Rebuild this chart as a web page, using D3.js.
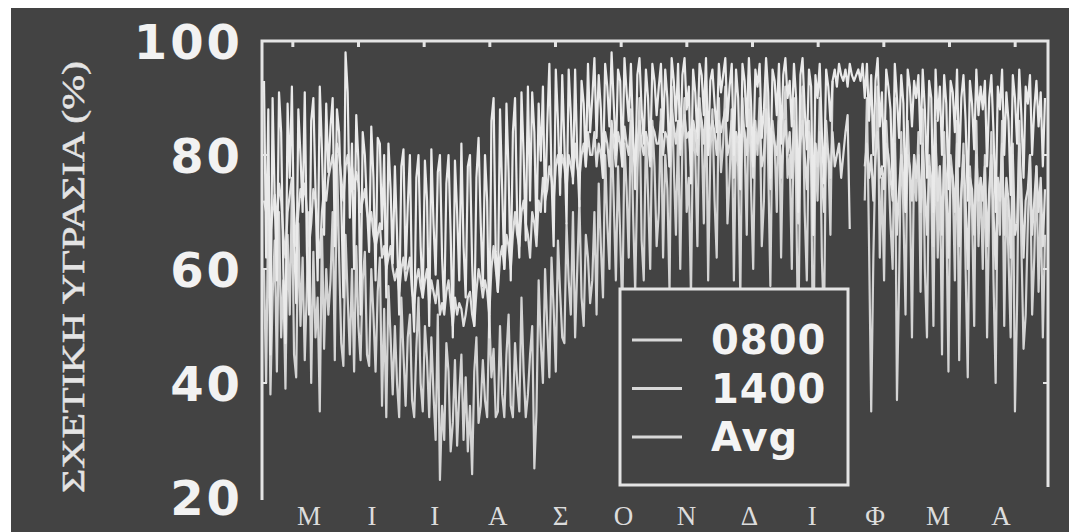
<!DOCTYPE html>
<html>
<head>
<meta charset="utf-8">
<script src="https://cdn.jsdelivr.net/npm/d3@7"></script>
<style>
  body { margin: 0; background: #fff; }
</style>
</head>
<body>
<div id="chart"></div>
<script>
var months = ["Μ", "Ι", "Ι", "Α", "Σ", "Ο", "Ν", "Δ", "Ι", "Φ", "Μ", "Α"];
var yTicks = [20, 40, 60, 80, 100];
var seriesNames = ["0800", "1400", "Avg"];

// daily relative humidity (%), May .. April, one row per month
var h0800 = [
  93,62,88,45,90,72,58,91,84,60,47,89,76,92,65,54,88,80,70,91,63,52,86,90,74,58,92,81,66,89,77,
  85,90,64,88,84,72,55,98,91,69,82,60,87,79,52,84,80,71,63,85,76,58,83,82,67,80,55,82,74,61,
  78,66,52,78,81,60,71,80,57,49,76,80,64,55,79,72,50,81,68,59,77,80,62,53,75,80,66,48,79,70,58,
  82,64,55,78,80,61,50,76,83,68,57,80,72,48,86,90,63,56,88,74,60,89,77,58,84,90,69,62,91,80,65,
  92,72,91,84,66,89,79,92,70,85,96,76,64,95,86,73,94,82,68,95,87,75,95,80,71,93,89,78,96,84,
  90,97,83,94,88,76,96,92,85,98,89,80,95,93,78,97,91,86,96,84,74,94,97,88,82,95,90,79,96,93,87,
  92,96,84,95,90,78,97,93,86,96,81,94,97,88,92,75,95,91,83,96,94,87,97,80,93,95,89,84,96,91,
  94,97,86,92,96,80,95,90,74,96,93,85,97,89,78,95,92,96,83,88,97,91,76,95,93,87,96,82,94,97,90,
  93,85,96,90,70,94,97,88,81,95,92,66,94,90,96,84,75,95,92,86,93,95,92,96,94,93,95,92,96,94,93,
  94,95,93,96,90,96,86,94,80,93,97,85,91,78,95,92,88,74,96,90,83,94,89,70,95,92,85,93,
  90,94,82,95,88,76,93,90,70,95,86,92,80,94,89,74,93,91,84,95,78,90,94,86,72,93,89,81,95,87,92,
  88,93,78,90,94,84,70,92,88,95,80,91,86,73,94,90,82,95,87,76,92,89,94,80,88,93,85,91,78,90
];

var h1400 = [
  60,40,72,38,55,65,42,70,48,58,39,66,52,74,45,41,68,50,62,44,57,70,40,63,48,55,35,67,46,60,52,
  58,70,44,80,62,47,43,66,55,45,60,42,64,50,44,58,63,45,43,60,52,42,56,62,36,53,34,57,48,38,
  50,40,34,55,45,36,48,52,37,34,46,55,40,35,50,44,34,48,38,30,52,23,36,30,47,42,28,33,44,29,38,
  45,30,41,28,36,24,42,48,33,36,44,37,34,52,41,46,34,35,50,38,34,45,52,36,34,47,40,35,55,42,34,
  38,45,50,25,35,58,47,40,60,50,41,62,53,42,65,56,48,47,68,58,52,70,48,60,72,55,50,66,62,54,
  58,70,52,75,64,55,80,68,60,85,72,58,78,66,52,82,74,62,88,70,56,76,90,65,58,84,73,60,86,78,64,
  70,88,62,80,74,56,92,78,66,85,60,82,90,70,76,55,86,80,64,90,84,68,93,58,80,88,72,62,90,77,
  82,92,68,76,88,58,84,78,55,90,82,66,94,74,60,86,80,90,64,72,93,78,57,86,82,70,91,62,84,92,76,
  80,60,90,74,45,84,92,70,58,86,78,40,82,72,90,62,50,86,80,66,93,null,null,null,null,null,null,null,null,null,null,
  null,null,null,null,72,90,64,35,62,80,92,62,76,58,86,78,68,60,90,37,58,84,70,52,86,76,48,80,
  72,84,56,88,60,48,80,74,50,86,62,78,45,84,70,42,80,76,58,86,44,72,82,60,41,78,70,50,86,64,76,
  60,80,48,70,84,58,40,76,66,86,50,74,62,48,82,35,54,86,64,46,52,68,80,52,62,78,56,72,48,66
];

var hAvg = [
  72,70,74,66,70,73,68,75,72,66,62,70,73,76,70,64,70,74,72,75,70,64,68,74,72,66,62,70,74,72,76,
  78,80,76,82,80,76,72,78,80,75,78,74,77,75,70,72,74,70,68,70,66,64,66,68,62,64,60,62,64,60,
  58,60,56,60,62,58,60,62,56,54,58,60,57,55,58,60,54,58,56,54,58,52,54,52,56,58,54,50,55,52,54,
  53,50,52,55,56,52,50,56,60,58,55,58,56,52,60,64,60,56,62,64,60,66,64,60,66,70,66,64,70,72,68,
  66,62,70,68,64,72,70,76,72,74,78,76,72,78,80,76,80,78,74,80,78,76,82,78,76,80,82,78,84,80,
  80,84,78,82,80,76,84,82,78,86,82,78,84,82,78,85,82,80,86,82,78,82,86,82,80,84,82,78,85,84,82,
  82,86,80,84,83,78,88,85,82,86,80,84,87,83,84,78,86,84,80,88,86,82,88,80,84,86,84,80,86,84,
  86,88,80,82,86,76,84,82,74,86,84,80,88,82,76,84,82,86,78,80,88,84,74,84,82,80,86,76,82,86,80,
  84,76,86,80,68,82,86,80,74,84,80,66,82,78,84,76,70,82,80,76,84,78,80,82,76,80,84,87,67,null,null,
  null,null,null,null,78,82,76,80,72,80,84,76,78,74,82,80,76,72,82,66,74,80,76,70,80,78,72,80,
  76,80,70,82,74,66,78,76,64,82,72,78,66,80,76,62,78,76,70,82,64,74,80,72,60,76,74,66,80,72,76,
  72,78,64,74,80,70,60,76,72,82,66,76,72,62,80,66,68,82,74,62,72,74,80,66,72,78,70,76,64,74
];

var svgWidth = 1069;
var svgHeight = 532;
var bg = "#434343";
var ink = "#e4e4e4";

var plot = { left: 262, right: 1048, top: 41, bottom: 497 };

var svg = d3.select("#chart")
  .append("svg")
  .attr("width", svgWidth)
  .attr("height", svgHeight);

// soften the marks a little, like the scanned original
var blur = svg.append("defs").append("filter").attr("id", "soft");
blur.append("feGaussianBlur").attr("stdDeviation", 0.5);

// dark scanned panel with white strip at top and left
svg.append("rect")
  .attr("x", 11)
  .attr("y", 8)
  .attr("width", svgWidth - 11)
  .attr("height", svgHeight - 8)
  .attr("fill", bg);

var nDays = h0800.length;

var x = d3.scaleLinear()
  .domain([0, nDays - 1])
  .range([plot.left + 2, plot.right - 3]);

var y = d3.scaleLinear()
  .domain([20, 100])
  .range([plot.bottom, plot.top]);

var monthTick = d3.scaleLinear()
  .domain([0, 12])
  .range([plot.left - 2, plot.right]);

var monthLabel = d3.scalePoint()
  .domain(d3.range(months.length))
  .range([309, 1001]);

svg.append("clipPath")
  .attr("id", "clip")
  .append("rect")
  .attr("x", plot.left)
  .attr("y", plot.top)
  .attr("width", plot.right - plot.left)
  .attr("height", plot.bottom - plot.top + 4);

var line = d3.line()
  .defined(d => d != null)
  .x((d, i) => x(i))
  .y(d => y(d));

var lines = svg.append("g")
  .attr("clip-path", "url(#clip)")
  .append("g")
  .attr("filter", "url(#soft)");

var seriesData = [h1400, hAvg, h0800];
var seriesColor = ["#d4d4d4", "#e0e0e0", "#eaeaea"];

lines.selectAll("path")
  .data(seriesData)
  .enter()
  .append("path")
  .attr("d", d => line(d))
  .attr("fill", "none")
  .attr("stroke", (d, i) => seriesColor[i])
  .attr("stroke-width", 2.2)
  .attr("stroke-linejoin", "round");

// frame (no bottom line in the original)
svg.append("path")
  .attr("d", `M${plot.left},500V${plot.top}H${plot.right}V487`)
  .attr("fill", "none")
  .attr("stroke", ink)
  .attr("stroke-width", 3);

svg.append("g")
  .selectAll("line")
  .data(d3.range(12))
  .enter()
  .append("line")
  .attr("x1", d => monthTick(d + 0.5))
  .attr("x2", d => monthTick(d + 0.5))
  .attr("y1", plot.top)
  .attr("y2", plot.top + 6)
  .attr("stroke", ink)
  .attr("stroke-width", 3);

var sideTicks = yTicks.filter(d => d > 20 && d < 100);

svg.append("g")
  .selectAll("line")
  .data(sideTicks)
  .enter()
  .append("line")
  .attr("x1", plot.left)
  .attr("x2", plot.left + 5)
  .attr("y1", d => y(d))
  .attr("y2", d => y(d))
  .attr("stroke", ink)
  .attr("stroke-width", 2);

svg.append("g")
  .selectAll("line")
  .data(sideTicks)
  .enter()
  .append("line")
  .attr("x1", plot.right)
  .attr("x2", plot.right - 5)
  .attr("y1", d => y(d))
  .attr("y2", d => y(d))
  .attr("stroke", ink)
  .attr("stroke-width", 2);

// y tick labels
svg.append("g")
  .selectAll("text")
  .data(yTicks)
  .enter()
  .append("text")
  .attr("x", 243)
  .attr("y", d => y(d) + 1)
  .attr("dy", "0.36em")
  .attr("text-anchor", "end")
  .attr("font-family", "DejaVu Sans")
  .attr("font-weight", "bold")
  .attr("font-size", 48)
  .attr("letter-spacing", 3)
  .attr("fill", "#f2f2f2")
  .text(d => d);

// month labels
svg.append("g")
  .selectAll("text")
  .data(months)
  .enter()
  .append("text")
  .attr("x", (d, i) => monthLabel(i))
  .attr("y", 525)
  .attr("text-anchor", "middle")
  .attr("font-family", "Liberation Serif")
  .attr("font-size", 27)
  .attr("fill", "#dcdcdc")
  .text(d => d);

// y axis title
svg.append("text")
  .attr("transform", "translate(84, 277) rotate(-90)")
  .attr("text-anchor", "middle")
  .attr("font-family", "Liberation Serif")
  .attr("font-size", 32)
  .attr("textLength", 432)
  .attr("lengthAdjust", "spacingAndGlyphs")
  .attr("fill", "#e4e4e4")
  .attr("stroke", "#e4e4e4")
  .attr("stroke-width", 0.5)
  .text("ΣΧΕΤΙΚΗ ΥΓΡΑΣΙΑ (%)");

// legend
var legend = svg.append("g");

legend.append("rect")
  .attr("x", 620)
  .attr("y", 289)
  .attr("width", 228)
  .attr("height", 196)
  .attr("fill", bg)
  .attr("stroke", ink)
  .attr("stroke-width", 3);

var legendY = d3.scalePoint()
  .domain(seriesNames)
  .range([340, 437]);

legend.selectAll("line")
  .data(seriesNames)
  .enter()
  .append("line")
  .attr("x1", 632)
  .attr("x2", 682)
  .attr("y1", d => legendY(d))
  .attr("y2", d => legendY(d))
  .attr("stroke", "#d8d8d8")
  .attr("stroke-width", 3);

legend.selectAll("text")
  .data(seriesNames)
  .enter()
  .append("text")
  .attr("x", 711)
  .attr("y", d => legendY(d) + 14)
  .attr("font-family", "DejaVu Sans")
  .attr("font-weight", "bold")
  .attr("font-size", 40)
  .attr("letter-spacing", 1)
  .attr("fill", "#f4f4f4")
  .text(d => d);
</script>
</body>
</html>
